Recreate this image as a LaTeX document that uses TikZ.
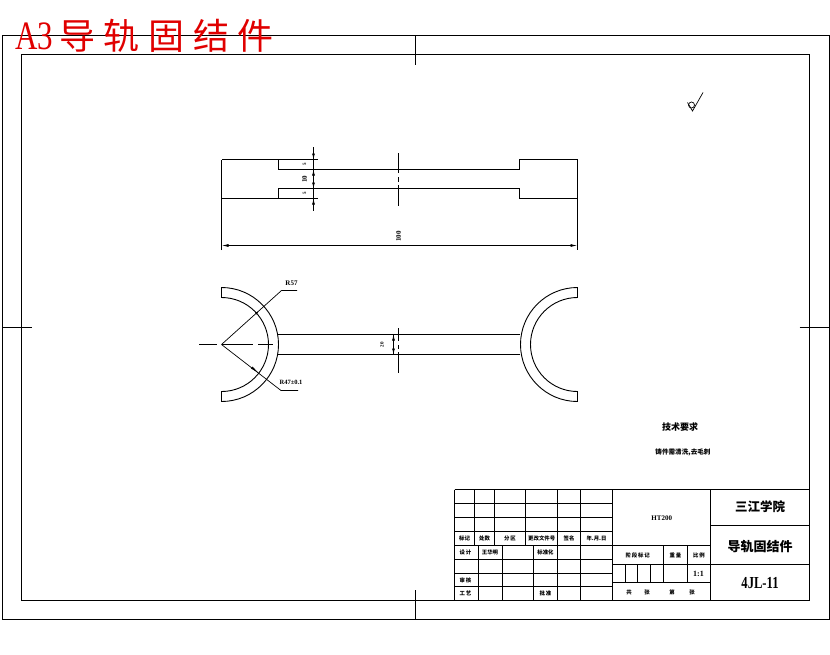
\documentclass[tikz,border=0pt]{standalone}
\usepackage{fontspec}
\setmainfont{Liberation Serif}
\newfontfamily\cjk{Noto Sans CJK SC}
\usetikzlibrary{arrows.meta}
\tikzset{
  ln/.style={line width=0.9pt,black},
  thin line/.style={line width=0.7pt,black},
  dimtip/.style={-{Latex[length=6pt,width=3pt]}},
  tiny/.style={inner sep=0pt,font=\cjk\bfseries\fontsize{5.4}{6}\selectfont},
  big/.style={inner sep=0pt,font=\cjk\bfseries\fontsize{12.5}{13}\selectfont},
  dimtxt/.style={inner sep=0pt,font=\bfseries\fontsize{5}{5}\selectfont}
}
\begin{document}
\begin{tikzpicture}[x=1pt,y=-1pt]
\useasboundingbox (0,0) rectangle (830,654);
% frames
\draw[ln] (2.5,35.5) rectangle (829,619.5);
\draw[ln] (21.5,54.5) rectangle (809.5,600.5);
\draw[ln] (415.5,35.5)--(415.5,64.5) (415.5,590)--(415.5,619.5);
\draw[ln] (2.5,327)--(31.5,327) (799.5,327)--(829,327);
% heading
\node[inner sep=0pt,anchor=west,text=red!88!black] (hA) at (15,36) {\scalebox{1}[1.3]{\fontsize{31}{31}\selectfont A3}};
\node[inner sep=0pt,anchor=west,text=red!88!black,font=\cjk\fontsize{36}{36}\selectfont] (hT) at (59,36) {导\hspace{8.7pt}轨\hspace{8.7pt}固\hspace{8.7pt}结\hspace{8.7pt}件};
% top view
\draw[ln] (318,159.5)--(221.5,159.5) (221.5,250)--(221.5,159.5);
\draw[ln] (278.5,159.5)--(278.5,169.5)--(519.5,169.5)--(519.5,159.5)--(577.5,159.5)--(577.5,250);
\draw[ln] (318,198.5)--(221.5,198.5) (278.5,198.5)--(278.5,188.5)--(519.5,188.5)--(519.5,198.5)--(577.5,198.5);
\draw[ln] (398.5,153)--(398.5,173) (398.5,177)--(398.5,182) (398.5,185)--(398.5,206);
\draw[ln] (313.5,147)--(313.5,211);
\draw[ln,dimtip] (313.5,152)--(313.5,159.5);
\draw[ln,dimtip] (313.5,177)--(313.5,169.5);
\draw[ln,dimtip] (313.5,181)--(313.5,188.5);
\draw[ln,dimtip] (313.5,206)--(313.5,198.5);
\draw[ln,{Latex[length=7pt,width=3pt]}-{Latex[length=7pt,width=3pt]}] (221.5,245.5)--(577.5,245.5);
\node[dimtxt,rotate=90] (d1) at (304.5,164) {5};
\node[dimtxt,rotate=90,font=\bfseries\fontsize{7}{7}\selectfont] (d2) at (304.5,179) {10};
\node[dimtxt,rotate=90] (d3) at (304.5,193.5) {5};
\node[dimtxt,rotate=90,font=\bfseries\fontsize{7}{7}\selectfont] (d4) at (398.5,236.5) {100};
% bottom view: left
\draw[ln] (221.5,287.5) arc[start angle=-90,end angle=90,radius=57]--(221.5,391.5) arc[start angle=90,end angle=-90,radius=47]--cycle;
% bottom view: right
\draw[ln] (577.5,287.5) arc[start angle=-90,end angle=-270,radius=57]--(577.5,391.5) arc[start angle=90,end angle=270,radius=47]--cycle;
% web
\draw[ln] (278,334.5)--(520,334.5) (278,354.5)--(520,354.5);
\draw[ln] (398.5,328)--(398.5,341) (398.5,345)--(398.5,349) (398.5,352)--(398.5,373);
\draw[ln] (393.5,334.5)--(393.5,354.5);
\draw[ln,dimtip] (393.5,341)--(393.5,334.5);
\draw[ln,dimtip] (393.5,348)--(393.5,354.5);
\node[dimtxt,rotate=90] (d5) at (382,344.5) {20};
% centre line and leaders
\draw[thin line] (199,344.5)--(216.5,344.5) (222,344.5)--(253,344.5) (258,344.5)--(273,344.5);
\coordinate (ctr) at (221.5,344.5);
\coordinate (up) at (281.5,290.5);
\coordinate (lo) at (281,390.5);
\draw[thin line] (ctr)--(up)--(297,290.5);
\draw[thin line] (ctr)--(lo)--(298,390.5);
\fill (258.5,311.5)--(255,312.5)--(256.5,314.5)--cycle;
\fill (258,372.5)--(252.5,366.5)--(251,368.5)--cycle;
\node[dimtxt,font=\bfseries\fontsize{7}{7}\selectfont] (r1) at (291.5,283) {R57};
\node[dimtxt,font=\bfseries\fontsize{6.5}{7}\selectfont] (r2) at (291,382) {R47±0.1};
% surface mark
\draw[thin line] (687.5,102.5)--(692.5,111)--(703,92.5);
\draw[thin line] (691.5,105) circle[radius=3];
% technical notes
\node[inner sep=0pt,font=\cjk\bfseries\fontsize{9}{9}\selectfont] (tq) at (680,427) {技术要求};
\node[inner sep=0pt,font=\cjk\bfseries\fontsize{6.6}{7}\selectfont] (tn) at (683,452.7) {铸件需清洗,去毛刺};
% title block outer
\draw[ln] (454.5,489.5)--(809.5,489.5) (454.5,489.5)--(454.5,600.5);
% left grid
\foreach \y in {503.5,517.5,531.5,545.5,559.5,573.5,586.5} \draw[ln] (454.5,\y)--(612.5,\y);
\foreach \x in {474.5,494.5,525.5} \draw[ln] (\x,489.5)--(\x,545.5);
\foreach \x in {557.5,580.5} \draw[ln] (\x,489.5)--(\x,600.5);
\foreach \x in {478.5,502.5,533.5} \draw[ln] (\x,545.5)--(\x,600.5);
\draw[ln] (612.5,489.5)--(612.5,600.5) (710.5,489.5)--(710.5,600.5);
% middle
\draw[ln] (612.5,545.5)--(710.5,545.5) (612.5,564.5)--(710.5,564.5) (612.5,582.5)--(710.5,582.5);
\draw[ln] (663.5,545.5)--(663.5,582.5) (687.5,545.5)--(687.5,582.5);
\foreach \x in {625.5,637.5,650.5} \draw[ln] (\x,564.5)--(\x,582.5);
% right
\draw[ln] (710.5,525.5)--(809.5,525.5) (710.5,564.5)--(809.5,564.5);
% labels
\node[tiny] (a1) at (464.6,538.5) {标记};
\node[tiny] (a2) at (484.5,538.5) {处数};
\node[tiny] (a3) at (510,538.5) {分\,区};
\node[tiny] (a4) at (541.7,538.5) {更改文件号};
\node[tiny] (a5) at (569,538.5) {签名};
\node[tiny] (a6) at (596.5,538.5) {年.月.日};
\node[tiny] (b1) at (465.5,552.5) {设\,计};
\node[tiny] (b2) at (490,552.5) {王华明};
\node[tiny] (b3) at (545.5,552.5) {标准化};
\node[tiny] (c1) at (465.5,580) {审\,核};
\node[tiny] (c2) at (465.5,593.5) {工\,艺};
\node[tiny] (c3) at (545.5,593.5) {批\,准};
\node[inner sep=0pt,font=\bfseries\fontsize{7}{7}\selectfont] (ht) at (661.7,517.7) {HT200};
\node[tiny] (e1) at (637.7,555.5) {阶\,段\,标\,记};
\node[tiny] (e2) at (675.5,555.5) {重\,量};
\node[tiny] (e3) at (699,555.5) {比\,例};
\node[inner sep=0pt,font=\bfseries\fontsize{8}{8}\selectfont] (e4) at (698.5,573.5) {1:1};
\node[tiny] (f1) at (629,592.3) {共};
\node[tiny] (f2) at (647,592.3) {张};
\node[tiny] (f3) at (672,592.3) {第};
\node[tiny] (f4) at (692,592.3) {张};
\node[big] (g1) at (760,507) {三江学院};
\node[big,font=\cjk\bfseries\fontsize{13}{13}\selectfont] (g2) at (760,546.5) {导轨固结件};
\node[inner sep=0pt] (g3) at (760,583) {\scalebox{0.9}[1.2]{\bfseries\fontsize{14}{14}\selectfont 4JL-11}};
\end{tikzpicture}
\end{document}
